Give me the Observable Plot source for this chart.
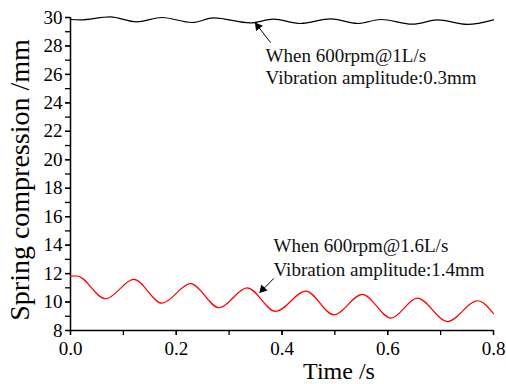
<!DOCTYPE html>
<html>
<head>
<meta charset="utf-8">
<script src="https://cdn.jsdelivr.net/npm/d3@7"></script>
<script src="https://cdn.jsdelivr.net/npm/@observablehq/plot@0.6"></script>
<style>
  html, body { margin: 0; padding: 0; background: white; }
  svg text { font-family: 'Liberation Serif', 'Times New Roman', serif; font-variant-numeric: normal; }
</style>
</head>
<body>
<div id="chart"></div>
<script>
// Series (time in s, compression in mm)
const topTime  = [0, 0.018, 0.075, 0.125, 0.173, 0.23, 0.271, 0.34, 0.384, 0.435, 0.492, 0.543, 0.587, 0.647, 0.694, 0.751, 0.8];
const topValue = [29.86, 29.83, 30.04, 29.69, 30.0, 29.65, 29.97, 29.62, 29.88, 29.58, 29.9, 29.58, 29.86, 29.53, 29.83, 29.51, 29.83];

const redTime  = [0, 0.012, 0.066, 0.120, 0.173, 0.227, 0.281, 0.334, 0.388, 0.445, 0.498, 0.552, 0.606, 0.656, 0.713, 0.770, 0.800];
const redValue = [11.82, 11.83, 10.23, 11.59, 9.92, 11.29, 9.60, 11.00, 9.34, 10.77, 9.10, 10.54, 8.87, 10.28, 8.63, 10.09, 9.18];

// Tick values and labels
const xTicksAll   = [0, 0.1, 0.2, 0.3, 0.4, 0.5, 0.6, 0.7, 0.8];
const xTickLabels = [0, 0.2, 0.4, 0.6, 0.8];
const yTicksAll   = d3.range(8, 31, 1);
const yTickLabels = [8, 10, 12, 14, 16, 18, 20, 22, 24, 26, 28, 30];

const xTitle = "Time /s";
const yTitle = "Spring compression /mm";

// Annotations (data coordinates)
const noteLines = [
  {t: 0.369, v: 26.87, label: "When 600rpm@1L/s"},
  {t: 0.369, v: 25.35, label: "Vibration amplitude:0.3mm"},
  {t: 0.384, v: 13.51, label: "When 600rpm@1.6L/s"},
  {t: 0.384, v: 11.80, label: "Vibration amplitude:1.4mm"}
];
const noteArrows = [
  {t1: 0.378, v1: 28.26, t2: 0.350, v2: 29.60},
  {t1: 0.384, v1: 11.64, t2: 0.359, v2: 10.70}
];
// filled arrow heads: position just behind the tip, and pointing angle (deg)
const noteHeads = [
  {t: 0.3545, v: 29.37, angle: -38},
  {t: 0.3635, v: 10.89, angle: -137}
];

const topData = topTime.map((t, i) => ({t, v: topValue[i]}));
const redData = redTime.map((t, i) => ({t, v: redValue[i]}));

const font = "'Liberation Serif', 'Times New Roman', serif";

const chart = Plot.plot({
  width: 506,
  height: 384,
  marginLeft: 70,
  marginRight: 13,
  marginTop: 17,
  marginBottom: 54,
  x: {domain: [0, 0.8], label: null},
  y: {domain: [8, 30], label: null},
  style: {fontFamily: font, fontSize: "18px", background: "white", color: "black", overflow: "visible"},
  marks: [
    Plot.axisX(xTicksAll, {tickSize: 5, tickFormat: () => "", label: null, strokeWidth: 1.3}),
    Plot.axisX(xTickLabels, {tickSize: 5, tickPadding: 6, tickFormat: d3.format(".1f"), label: null, fontSize: 19, fontFamily: font, strokeWidth: 1.3}),
    Plot.axisY(yTicksAll, {tickSize: 5, tickFormat: () => "", label: null, strokeWidth: 1.3}),
    Plot.axisY(yTickLabels, {tickSize: 5, tickPadding: 3, tickFormat: d3.format("d"), label: null, fontSize: 19, fontFamily: font, strokeWidth: 1.3}),
    Plot.ruleX([0], {stroke: "black", strokeWidth: 1.5}),
    Plot.ruleY([8], {stroke: "black", strokeWidth: 1.5}),
    Plot.line(topData, {x: "t", y: "v", stroke: "black", strokeWidth: 1.2, curve: "monotone-x"}),
    Plot.line(redData, {x: "t", y: "v", stroke: "#ff0000", strokeWidth: 1.2, curve: "monotone-x"}),
    Plot.arrow(noteArrows, {x1: "t1", y1: "v1", x2: "t2", y2: "v2", stroke: "black", strokeWidth: 1, headLength: 0}),
    Plot.dot(noteHeads, {x: "t", y: "v", rotate: "angle", symbol: "triangle", r: 3.2, fill: "black", stroke: "none"}),
    Plot.text(noteLines, {x: "t", y: "v", text: "label", textAnchor: "start", lineAnchor: "bottom", fontSize: 19, fill: "#111"}),
    Plot.text([xTitle], {frameAnchor: "bottom", dx: 57, dy: 48, lineAnchor: "bottom", fontSize: 24}),
    Plot.text([yTitle], {frameAnchor: "left", rotate: -90, textAnchor: "middle", dx: -42, dy: 6, lineAnchor: "bottom", fontSize: 28})
  ]
});

document.getElementById("chart").appendChild(chart);
</script>
</body>
</html>
